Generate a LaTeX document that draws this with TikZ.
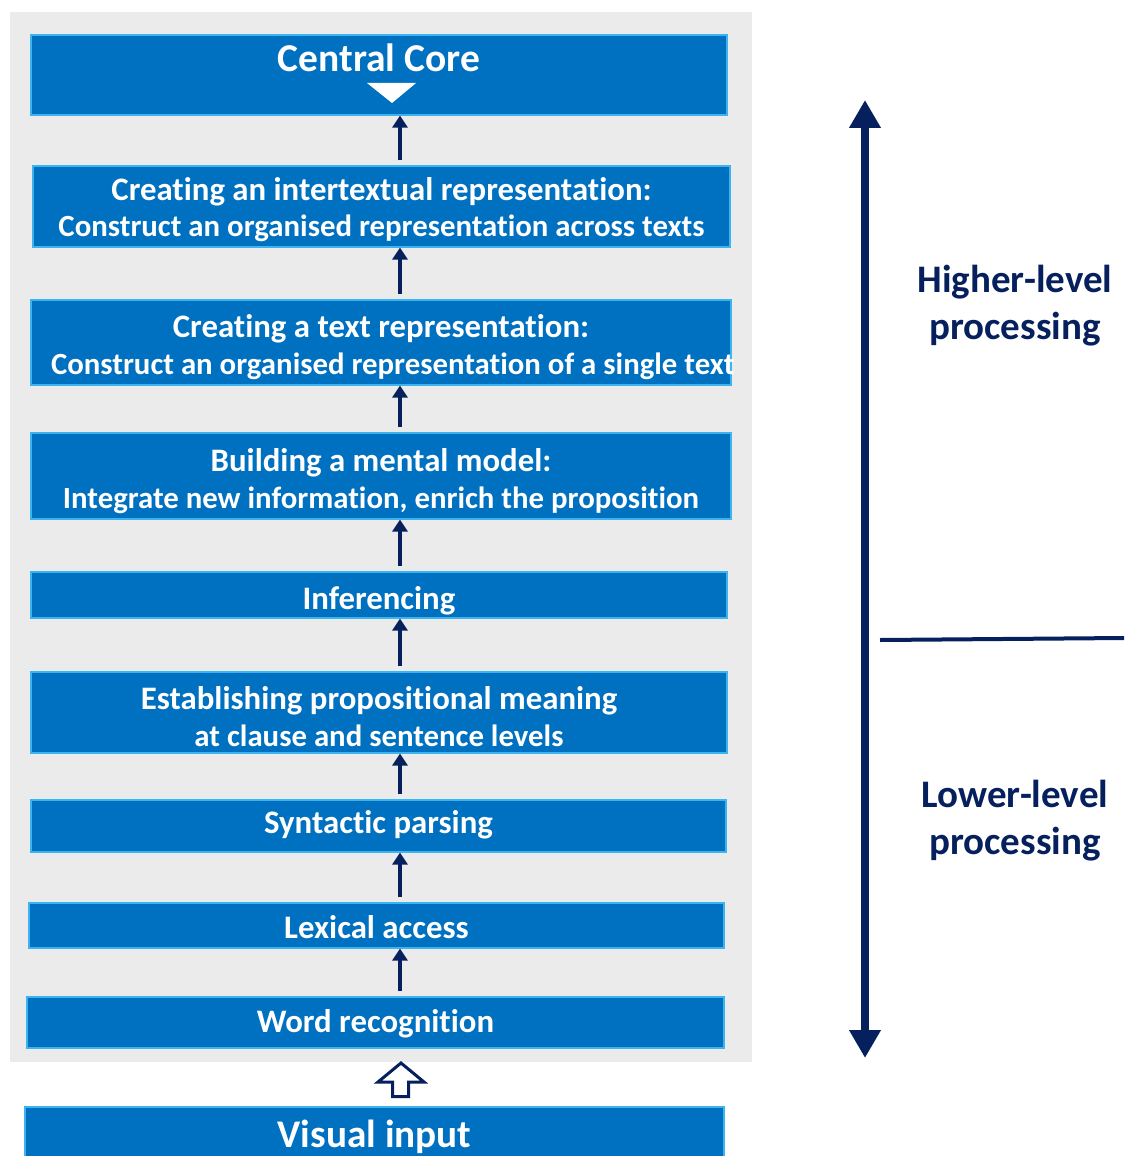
\documentclass[tikz,border=0pt]{standalone}
\usepackage{fontspec}
\setmainfont{Carlito}[Ligatures=NoCommon]
\usetikzlibrary{positioning}
\usetikzlibrary{arrows.meta}
\definecolor{boxblue}{HTML}{0070C0}
\definecolor{edgeblue}{HTML}{3CB4F0}
\definecolor{navy}{HTML}{06205E}
\definecolor{panel}{HTML}{EBEBEB}
\newcommand{\subline}[1]{{\fontsize{15.4}{18.3}\selectfont #1}}

\begin{document}
\begin{tikzpicture}[x=0.5pt, y=-0.5pt,
			stage/.style={draw=edgeblue, fill=boxblue, line width=0.6pt, text=white, font=\bfseries\fontsize{16.4}{18.3}\selectfont, align=center, inner sep=0pt, text depth=0pt},
			up/.style={draw=navy, line width=2pt, -{Triangle[length=6pt,width=7.5pt]}},
			span/.style={draw=navy, line width=4pt, {Triangle[length=14pt,width=15pt]}-{Triangle[length=14pt,width=15pt]}},
			side/.style={text=navy, font=\bfseries\fontsize{19.5}{23.5}\selectfont, align=center}]
			\useasboundingbox (0,0) rectangle (1124,1156);
			\fill[panel] (10,12) rectangle (752,1062);
			% stages, top to bottom
			\node[stage, minimum width=348pt, minimum height=40pt, label={[anchor=north, yshift=-1pt, text=white, font=\bfseries\fontsize{19.75}{22}\selectfont]north:Central Core}] (core) at (379,75) {};
			\fill[white] (367,83) -- (416,83) -- (392,103) -- cycle;
			\node[stage, minimum width=348.5pt, minimum height=40.5pt, text height=30.3pt] (inter) at (381.5,206.5) {Creating an intertextual representation:\\\subline{Construct an organised representation across texts}};
			\node[stage, minimum width=350pt, minimum height=42.5pt, text height=32pt] (textrep) at (381,342.5) {Creating a text representation:\\\subline{\makebox[330pt][l]{Construct an organised representation of a single text}}};
			\node[stage, minimum width=350pt, minimum height=43pt, text height=32.5pt] (model) at (381,476) {Building a mental model:\\\subline{Integrate new information, enrich the proposition}};
			\node[stage, minimum width=348pt, minimum height=23pt, text height=14pt] (infer) at (379,595) {Inferencing};
			\node[stage, minimum width=348pt, minimum height=40.5pt, text height=34pt] (prop) at (379,712.5) {Establishing propositional meaning\\\subline{at clause and sentence levels}};
			\node[stage, minimum width=347.5pt, minimum height=26pt, text height=7.3pt] (syntax) at (378.5,826) {Syntactic parsing};
			\node[stage, minimum width=347.5pt, minimum height=22.5pt, text height=12.6pt] (lexical) at (376.5,925.5) {Lexical access};
			\node[stage, minimum width=348.5pt, minimum height=25.5pt, text height=10.4pt] (word) at (375.5,1022.5) {Word recognition};
			\node[stage, minimum width=349.5pt, minimum height=33pt, text height=7pt, font=\bfseries\fontsize{19.6}{22}\selectfont] (visual) at (374.5,1140) {Visual input};
			% arrows up the stack
			\coordinate (spine) at (400,0);
			\foreach \lo/\hi in {inter/core, textrep/inter, model/textrep, infer/model, prop/infer, syntax/prop, lexical/syntax, word/lexical}
				\draw[up] ([yshift=2.5pt]\lo.north -| spine) -- (\hi.south -| spine);
			% hollow arrow from the input
			\draw[navy, line width=1.5pt, fill=white] (392.5,1096.5) -- (392.5,1082) -- (378,1082) -- (401,1063) -- (424,1082) -- (408.5,1082) -- (408.5,1096.5) -- cycle;
			% processing levels
			\coordinate (top) at (865,100);
			\coordinate (bottom) at (865,1058);
			\draw[span] (bottom) -- (top);
			\coordinate (divl) at (880,640);
			\coordinate (divr) at (1124,638);
			\draw[navy, line width=2pt] (divl) -- (divr);
			\node[side] (higher) at (1015,306) {Higher-level\\processing};
			\node[side] (lower) at (1015,821) {Lower-level\\processing};
\end{tikzpicture}
\end{document}
